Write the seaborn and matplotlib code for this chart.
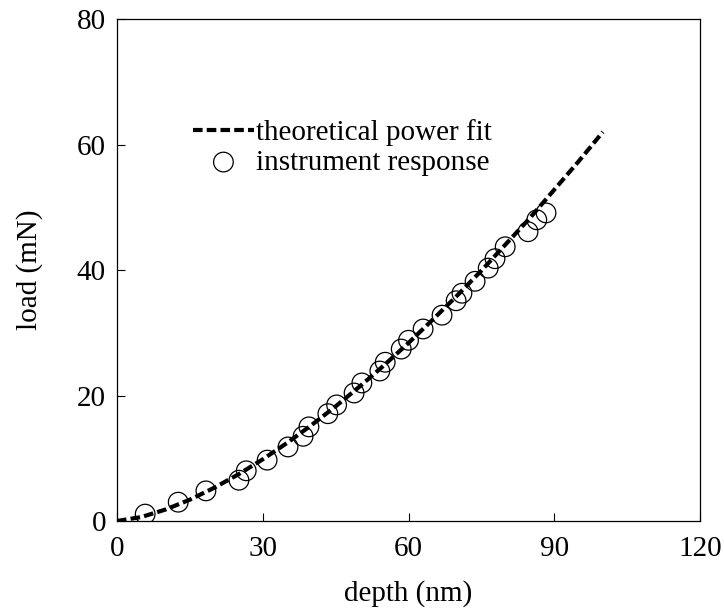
import matplotlib
matplotlib.use("Agg")
import matplotlib.pyplot as plt
import seaborn as sns
import pandas as pd

# instrument response (measured points)
depth_pts = [5.8, 12.6, 18.3, 25.1, 26.6, 30.9, 35.2, 38.3, 39.5, 43.4, 45.2, 48.8,
             50.4, 54.1, 55.2, 58.5, 60.0, 63.0, 66.9, 69.8, 71.0, 73.7, 76.4, 77.8,
             79.9, 84.6, 86.4, 88.3]
load_pts = [1.1, 3.0, 4.8, 6.5, 8.0, 9.7, 11.8, 13.5, 15.0, 17.1, 18.5, 20.4,
            22.0, 23.9, 25.3, 27.4, 28.8, 30.6, 32.8, 35.1, 36.3, 38.2, 40.3, 41.8,
            43.7, 46.1, 48.0, 49.1]

# theoretical power fit
depth_fit = [0, 5, 10, 15, 20, 25, 30, 35, 40, 45, 50, 55, 60, 65, 70, 75, 80, 85, 90, 95, 100]
load_fit = [0.0, 0.63, 1.83, 3.40, 5.29, 7.44, 9.83, 12.44, 15.26, 18.27, 21.47, 24.84,
            28.38, 32.10, 35.92, 39.9, 44.1, 48.3, 52.8, 57.3, 62.0]

xticks = [0, 30, 60, 90, 120]
yticks = [0, 20, 40, 60, 80]

sns.set_theme(style="ticks")
plt.rcParams['font.family'] = ['Liberation Serif', 'DejaVu Serif']
plt.rcParams['mathtext.fontset'] = 'stix'
plt.rcParams['text.color'] = 'black'
plt.rcParams['axes.labelcolor'] = 'black'
plt.rcParams['xtick.color'] = 'black'
plt.rcParams['ytick.color'] = 'black'

FS = 21

fig = plt.figure(figsize=(7.24, 6.11), dpi=100)
ax = fig.add_axes([0.1616, 0.1473, 0.8053, 0.8216])

df_fit = pd.DataFrame({"depth": depth_fit, "load": load_fit})
df_pts = pd.DataFrame({"depth": depth_pts, "load": load_pts})

sns.lineplot(data=df_fit, x="depth", y="load", ax=ax, color="black", lw=3.0,
             linestyle=(0, (2.3, 1.0)), label="theoretical power fit", zorder=3)
sns.scatterplot(data=df_pts, x="depth", y="load", ax=ax, marker="o", s=200,
                facecolors="none", edgecolor="black", linewidth=0.9,
                label="instrument response", zorder=2)

ax.set_xlim(0, 120)
ax.set_ylim(0, 80)
ax.set_xticks(xticks)
ax.set_yticks(yticks)
ax.tick_params(axis="both", direction="in", length=6, width=0.8, labelsize=FS,
               colors="black", top=False, right=False)
ax.tick_params(axis="x", pad=11)
ax.tick_params(axis="y", pad=8)
for sp in ax.spines.values():
    sp.set_visible(True)
    sp.set_linewidth(0.9)
    sp.set_color("black")
ax.set_xlabel("depth (nm)", fontsize=FS, labelpad=13)
ax.set_ylabel("load (mN)", fontsize=FS, labelpad=24)

leg = ax.legend(loc="upper left", bbox_to_anchor=(0.13, 0.80), frameon=False,
                fontsize=FS, handlelength=2.1, handletextpad=0.07, borderpad=0,
                borderaxespad=0, labelspacing=0.1)
for h in leg.legend_handles:
    try:
        h.set_sizes([200])
    except Exception:
        pass

fig.savefig("out.png", dpi=100, facecolor="white")
